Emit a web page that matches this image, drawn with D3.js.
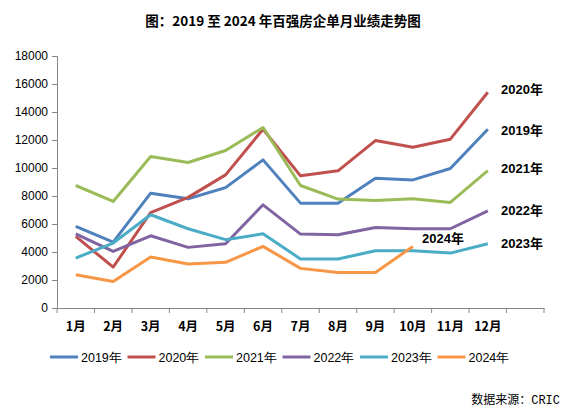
<!DOCTYPE html>
<html>
<head>
<meta charset="utf-8">
<script src="https://cdn.jsdelivr.net/npm/d3@7"></script>
<style>
  body { margin: 0; background: #fff; }
  text { font-family: "Liberation Sans", Arial, sans-serif; }
</style>
</head>
<body>
<div class="canvas"></div>
<script>
// months + one empty slot on the right, like the original
const months = ['1月','2月','3月','4月','5月','6月','7月','8月','9月','10月','11月','12月',''];
const years = ['2019年','2020年','2021年','2022年','2023年','2024年'];
const colors = ['#4F81BD','#C0504D','#9BBB59','#8064A2','#4BACC6','#F79646'];

const v2019 = [5830, 4700, 8200, 7800, 8600, 10580, 7490, 7490, 9270, 9150, 9960, 12770];
const v2020 = [5110, 2920, 6820, 7900, 9510, 12770, 9440, 9800, 11960, 11480, 12060, 15410];
const v2021 = [8750, 7610, 10820, 10390, 11250, 12890, 8750, 7780, 7680, 7800, 7540, 9820];
const v2022 = [5300, 4040, 5160, 4330, 4590, 7370, 5280, 5230, 5750, 5660, 5660, 6940];
const v2023 = [3570, 4640, 6660, 5660, 4880, 5300, 3500, 3500, 4090, 4090, 3920, 4590];
const v2024 = [2380, 1900, 3640, 3140, 3260, 4400, 2830, 2540, 2540, 4400];
const series = [v2019, v2020, v2021, v2022, v2023, v2024];

const yTicks = [0, 2000, 4000, 6000, 8000, 10000, 12000, 14000, 16000, 18000];

const svg = d3.select('.canvas')
  .append('svg')
  .attr('width', 564)
  .attr('height', 416);

const x = d3.scaleBand()
  .domain(months.map((m, i) => i))
  .range([57, 544]);

const y = d3.scaleLinear()
  .domain([0, 18000])
  .range([308, 56]);

// title
svg.append('text')
  .attr('x', 283).attr('y', 26)
  .attr('text-anchor', 'middle')
  .style('font-family', '"Noto Sans CJK SC", sans-serif')
  .style('font-weight', 'bold')
  .style('font-size', '13.5px')
  .text('图：2019 至 2024 年百强房企单月业绩走势图');

// y axis
const yAxis = svg.append('g')
  .attr('transform', 'translate(57,0)')
  .call(d3.axisLeft(y).tickValues(yTicks).tickSize(5).tickPadding(4).tickFormat(d3.format('d')));
yAxis.selectAll('text').style('font-size', '12px').attr('fill', '#000');

// x axis
const xAxis = svg.append('g')
  .attr('transform', 'translate(0,308)')
  .call(d3.axisBottom(x).tickSize(0).tickFormat(''));
xAxis.selectAll('.tick').remove();
xAxis.selectAll('.xtick')
  .data(d3.range(months.length + 1))
  .enter()
  .append('line')
  .attr('x1', i => 57 + i * x.step())
  .attr('x2', i => 57 + i * x.step())
  .attr('y1', 0).attr('y2', 5)
  .attr('stroke', '#868686');

svg.selectAll('.mlabel')
  .data(months)
  .enter()
  .append('text')
  .attr('x', (d, i) => x(i) + x.bandwidth() / 2)
  .attr('y', 331)
  .attr('text-anchor', 'middle')
  .style('font-family', '"Noto Sans CJK SC", sans-serif')
  .style('font-weight', 'bold')
  .style('font-size', '12.5px')
  .text(d => d);

svg.selectAll('.domain').attr('stroke', '#868686');
svg.selectAll('.tick line').attr('stroke', '#868686');

// lines
const line = d3.line()
  .x((d, i) => x(i) + x.bandwidth() / 2)
  .y(d => y(d));

svg.selectAll('.series')
  .data(series)
  .enter()
  .append('path')
  .attr('d', d => line(d))
  .attr('fill', 'none')
  .attr('stroke', (d, i) => colors[i])
  .attr('stroke-width', 3)
  .attr('stroke-linejoin', 'round');

// end labels
const endLabels = [
  {t: '2020年', x: 501, y: 94},
  {t: '2019年', x: 501, y: 135},
  {t: '2021年', x: 501, y: 173},
  {t: '2022年', x: 501, y: 215},
  {t: '2023年', x: 501, y: 248},
  {t: '2024年', x: 422, y: 243}
];
svg.selectAll('.elabel')
  .data(endLabels)
  .enter()
  .append('text')
  .attr('x', d => d.x)
  .attr('y', d => d.y)
  .style('font-weight', 'bold')
  .style('font-size', '13px')
  .style('font-family', '"Liberation Sans", "Noto Sans CJK SC", sans-serif')
  .text(d => d.t);

// legend
const lg = svg.selectAll('.legend')
  .data(years)
  .enter()
  .append('g')
  .attr('transform', (d, i) => `translate(${50 + i * 77.5},357)`);
lg.append('line')
  .attr('x1', 0).attr('x2', 28)
  .attr('stroke', (d, i) => colors[i])
  .attr('stroke-width', 3);
lg.append('text')
  .attr('x', 31).attr('y', 4.5)
  .style('font-size', '12.5px')
  .text(d => d);

// source
const src = svg.append('text')
  .attr('x', 560).attr('y', 404)
  .attr('text-anchor', 'end')
  .style('font-size', '12px');
src.append('tspan')
  .style('font-family', '"Noto Sans CJK SC", sans-serif')
  .text('数据来源：');
src.append('tspan')
  .style('font-family', '"Liberation Mono", "DejaVu Sans Mono", monospace')
  .text('CRIC');
</script>
</body>
</html>
